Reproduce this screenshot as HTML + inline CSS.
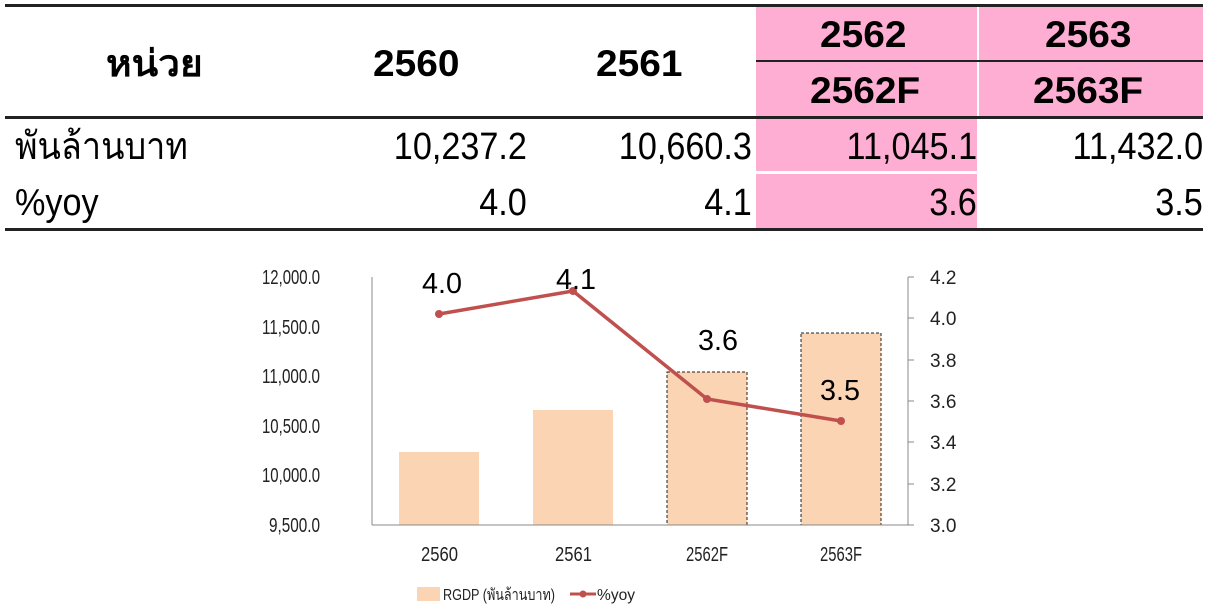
<!DOCTYPE html>
<html><head><meta charset="utf-8"><style>
body{margin:0;background:#fff;width:1210px;height:607px;overflow:hidden;position:relative;font-family:"Liberation Sans","Noto Sans CJK SC",sans-serif}
.a{position:absolute}
.t{position:absolute;font-size:38px;color:#000;white-space:nowrap;line-height:1;transform:scaleX(0.9);transform-origin:left center}
.r{transform-origin:right center}
.b{font-weight:bold;font-size:37px;transform:scaleX(1.05)}
</style></head><body>
<div class="a" style="left:756px;top:6px;width:221px;height:110px;background:#ffaed3"></div>
<div class="a" style="left:979px;top:6px;width:224px;height:110px;background:#ffaed3"></div>
<div class="a" style="left:756px;top:118px;width:221px;height:53px;background:#ffaed3"></div>
<div class="a" style="left:756px;top:174px;width:221px;height:54px;background:#ffaed3"></div>
<div class="a" style="left:5px;top:4px;width:1198px;height:3px;background:#222"></div>
<div class="a" style="left:756px;top:60px;width:447px;height:2px;background:#222"></div>
<div class="a" style="left:5px;top:116px;width:1198px;height:3px;background:#222"></div>
<div class="a" style="left:5px;top:228px;width:1198px;height:3px;background:#222"></div>

<div class="t b" style="left:106px;top:45px">หน่วย</div>
<div class="t b" style="left:373px;top:45px">2560</div>
<div class="t b" style="left:596px;top:45px">2561</div>
<div class="t b" style="left:820px;top:16px">2562</div>
<div class="t b" style="left:1045px;top:16px">2563</div>
<div class="t b" style="left:810px;top:72px">2562F</div>
<div class="t b" style="left:1033px;top:72px">2563F</div>

<div class="t" style="left:15px;top:128px">พันล้านบาท</div>
<div class="t r" style="right:683px;top:128px">10,237.2</div>
<div class="t r" style="right:458px;top:128px">10,660.3</div>
<div class="t r" style="right:233px;top:128px">11,045.1</div>
<div class="t r" style="right:7px;top:128px">11,432.0</div>
<div class="t" style="left:15px;top:184px">%yoy</div>
<div class="t r" style="right:683px;top:184px">4.0</div>
<div class="t r" style="right:458px;top:184px">4.1</div>
<div class="t r" style="right:233px;top:184px">3.6</div>
<div class="t r" style="right:7px;top:184px">3.5</div>

<svg class="a" style="left:0;top:0" width="1210" height="607" font-family="Liberation Sans, Noto Sans CJK SC, sans-serif">
<g fill="#fbd4b4">
<rect x="399" y="452" width="80" height="73"/>
<rect x="533" y="410" width="80" height="115"/>
<rect x="667" y="372" width="80" height="153" stroke="#222" stroke-dasharray="3,2"/>
<rect x="801" y="333" width="80" height="192" stroke="#222" stroke-dasharray="3,2"/>
</g>
<line x1="372" y1="277" x2="372" y2="525" stroke="#888"/>
<line x1="372" y1="525" x2="908" y2="525" stroke="#888"/>
<line x1="908" y1="277" x2="908" y2="525" stroke="#888"/>
<g stroke="#888">
<line x1="908" y1="277" x2="914" y2="277"/><line x1="908" y1="318" x2="914" y2="318"/><line x1="908" y1="360" x2="914" y2="360"/><line x1="908" y1="401" x2="914" y2="401"/><line x1="908" y1="442" x2="914" y2="442"/><line x1="908" y1="484" x2="914" y2="484"/><line x1="908" y1="525" x2="914" y2="525"/>
</g>
<g font-size="20" text-anchor="end" fill="#222">
<text x="320" y="284" textLength="58" lengthAdjust="spacingAndGlyphs">12,000.0</text>
<text x="320" y="334" textLength="58" lengthAdjust="spacingAndGlyphs">11,500.0</text>
<text x="320" y="383" textLength="58" lengthAdjust="spacingAndGlyphs">11,000.0</text>
<text x="320" y="433" textLength="58" lengthAdjust="spacingAndGlyphs">10,500.0</text>
<text x="320" y="482" textLength="58" lengthAdjust="spacingAndGlyphs">10,000.0</text>
<text x="320" y="532" textLength="51" lengthAdjust="spacingAndGlyphs">9,500.0</text>
</g>
<g font-size="19" fill="#222">
<text x="930" y="284">4.2</text><text x="930" y="325">4.0</text><text x="930" y="367">3.8</text><text x="930" y="408">3.6</text><text x="930" y="449">3.4</text><text x="930" y="491">3.2</text><text x="930" y="532">3.0</text>
</g>
<g font-size="20" fill="#222">
<text x="421" y="561" textLength="37" lengthAdjust="spacingAndGlyphs">2560</text>
<text x="555" y="561" textLength="37" lengthAdjust="spacingAndGlyphs">2561</text>
<text x="686" y="561" textLength="42" lengthAdjust="spacingAndGlyphs">2562F</text>
<text x="820" y="561" textLength="42" lengthAdjust="spacingAndGlyphs">2563F</text>
</g>
<polyline points="439,314 573,291 707,399 841,421" fill="none" stroke="#c0504d" stroke-width="3.5"/>
<g fill="#c0504d"><circle cx="439" cy="314" r="4"/><circle cx="573" cy="291" r="4"/><circle cx="707" cy="399" r="4"/><circle cx="841" cy="421" r="4"/></g>
<g font-size="29" fill="#000">
<text x="422" y="293" textLength="40" lengthAdjust="spacingAndGlyphs">4.0</text>
<text x="556" y="289" textLength="40" lengthAdjust="spacingAndGlyphs">4.1</text>
<text x="698" y="350" textLength="40" lengthAdjust="spacingAndGlyphs">3.6</text>
<text x="820" y="400" textLength="40" lengthAdjust="spacingAndGlyphs">3.5</text>
</g>
<rect x="417" y="587" width="23" height="14" fill="#fbd4b4"/>
<text x="443" y="600" font-size="16" fill="#222" textLength="112" lengthAdjust="spacingAndGlyphs">RGDP (พันล้านบาท)</text>
<line x1="570" y1="594" x2="596" y2="594" stroke="#c0504d" stroke-width="3"/>
<circle cx="583" cy="594" r="3.5" fill="#c0504d"/>
<text x="597" y="600" font-size="16" fill="#222" textLength="38" lengthAdjust="spacingAndGlyphs">%yoy</text>
</svg>
</body></html>
